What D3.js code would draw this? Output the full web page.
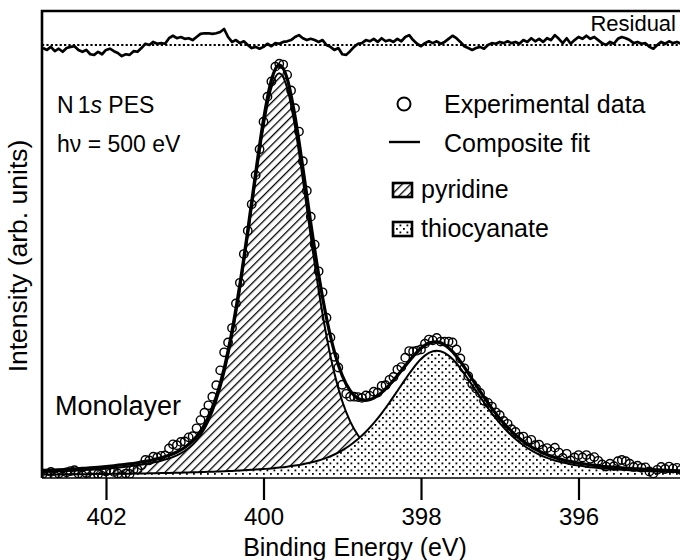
<!DOCTYPE html>
<html>
<head>
<meta charset="utf-8">
<script src="https://cdn.jsdelivr.net/npm/d3@7"></script>
<style>
  body { margin: 0; background: #fff; }
  svg { display: block; }
  text { font-family: "Liberation Sans", Arial, Helvetica, sans-serif; fill: #000; }
</style>
</head>
<body>
<svg id="chart" width="680" height="560"></svg>
<script>
// N 1s photoemission spectrum of a monolayer, fitted with two components.

// Energy grid of the fitted curves (eV)
const fitEnergy = [402.8,402.7,402.6,402.5,402.4,402.3,402.2,402.1,402.0,401.9,
  401.8,401.7,401.6,401.5,401.4,401.3,401.2,401.1,401.0,400.9,
  400.8,400.7,400.6,400.5,400.4,400.3,400.2,400.1,400.0,399.9,
  399.8,
  399.7,399.6,399.5,399.4,399.3,399.2,399.1,399.0,398.9,398.8,
  398.7,398.6,398.5,398.4,398.3,398.2,398.1,398.0,397.9,397.8,
  397.7,397.6,397.5,397.4,397.3,397.2,397.1,397.0,396.9,396.8,
  396.7,396.6,396.5,396.4,396.3,396.2,396.1,396.0,395.9,395.8,
  395.7,395.6,395.5,395.4,395.3,395.2,395.1,395.0,394.9,394.8,
  394.7];

// Pyridine component (arb. units)
const pyridine = [0.99,1.05,1.13,1.21,1.30,1.41,1.52,1.65,1.80,1.96,
  2.15,2.37,2.63,2.92,3.29,3.73,4.29,5.04,6.09,7.63,
  9.92,13.30,18.19,25.00,34.03,45.25,58.28,72.10,84.98,94.46,
  98.0,
  94.46,84.98,72.10,58.28,45.25,34.03,25.00,18.19,13.30,9.92,
  7.63,6.09,5.04,4.29,3.73,3.29,2.92,2.63,2.37,2.15,
  1.96,1.80,1.65,1.52,1.41,1.30,1.21,1.13,1.05,0.99,
  0.93,0.87,0.82,0.77,0.73,0.69,0.65,0.62,0.59,0.56,
  0.53,0.51,0.49,0.46,0.44,0.43,0.41,0.39,0.38,0.36,
  0.35];

// Thiocyanate component (arb. units)
const thiocyanate = [0.35,0.37,0.38,0.40,0.41,0.43,0.45,0.47,0.49,0.52,
  0.54,0.57,0.60,0.63,0.67,0.70,0.74,0.79,0.84,0.89,
  0.95,1.01,1.08,1.15,1.24,1.33,1.44,1.56,1.70,1.85,
  2.04,
  2.26,2.53,2.86,3.27,3.78,4.42,5.23,6.24,7.48,8.98,
  10.78,12.87,15.25,17.88,20.68,23.52,26.20,28.45,29.96,30.5,
  29.96,28.45,26.20,23.52,20.68,17.88,15.25,12.87,10.78,8.98,
  7.48,6.24,5.23,4.42,3.78,3.27,2.86,2.53,2.26,2.04,
  1.85,1.70,1.56,1.44,1.33,1.24,1.15,1.08,1.01,0.95,
  0.89];

// Composite fit (arb. units)
const composite = [1.34,1.42,1.51,1.61,1.71,1.84,1.97,2.12,2.29,2.48,
  2.69,2.94,3.23,3.55,3.96,4.43,5.03,5.83,6.93,8.52,
  10.87,14.31,19.27,26.15,35.27,46.58,59.72,73.66,86.68,96.31,
  100.04,
  96.72,87.51,74.96,61.55,49.03,38.45,30.23,24.43,20.78,18.90,
  18.41,18.96,20.29,22.17,24.41,26.81,29.12,31.08,32.33,32.65,
  31.92,30.25,27.85,25.04,22.09,19.18,16.46,14.00,11.83,9.97,
  8.41,7.11,6.05,5.19,4.51,3.96,3.51,3.15,2.85,2.60,
  2.38,2.21,2.05,1.90,1.77,1.67,1.56,1.47,1.39,1.31,
  1.24];

// Measured binding energies (eV)
const dataEnergy = [402.80,402.75,402.70,402.65,402.60,402.55,402.50,402.45,402.40,402.35,
  402.30,402.25,402.20,402.15,402.10,402.05,402.00,401.95,401.90,401.85,
  401.80,401.75,401.70,401.65,401.60,401.55,401.50,401.45,401.40,401.35,
  401.30,401.25,401.20,401.15,401.10,401.05,401.00,400.95,400.90,400.85,
  400.80,400.75,400.70,400.65,400.60,400.55,400.50,400.45,400.40,400.35,
  400.30,400.25,400.20,400.15,400.10,400.05,400.00,399.95,399.90,399.85,
  399.80,399.75,399.70,399.65,399.60,399.55,399.50,399.45,399.40,399.35,
  399.30,399.25,399.20,399.15,399.10,399.05,399.00,398.95,398.90,398.85,
  398.80,398.75,398.70,398.65,398.60,398.55,398.50,398.45,398.40,398.35,
  398.30,398.25,398.20,398.15,398.10,398.05,398.00,397.95,397.90,397.85,
  397.80,397.75,397.70,397.65,397.60,397.55,397.50,397.45,397.40,397.35,
  397.30,397.25,397.20,397.15,397.10,397.05,397.00,396.95,396.90,396.85,
  396.80,396.75,396.70,396.65,396.60,396.55,396.50,396.45,396.40,396.35,
  396.30,396.25,396.20,396.15,396.10,396.05,396.00,395.95,395.90,395.85,
  395.80,395.75,395.70,395.65,395.60,395.55,395.50,395.45,395.40,395.35,
  395.30,395.25,395.20,395.15,395.10,395.05,395.00,394.95,394.90,394.85,
  394.80,394.75,394.70];

// Measured intensity (arb. units)
const dataIntensity = [0.6,0.2,1.0,0.0,0.6,-0.1,0.9,1.2,1.4,0.6,
  0.2,0.7,-0.3,-0.4,0.5,0.0,1.1,1.5,1.0,0.6,
  0.0,0.6,0.5,1.6,1.6,2.6,3.9,3.8,4.7,4.5,
  4.9,5.0,6.7,7.7,7.5,8.3,8.4,9.4,9.7,11.6,
  13.6,15.4,17.2,19.3,22.1,25.7,30.1,32.5,36.0,42.0,
  47.0,54.0,59.7,66.1,73.2,79.5,86.2,92.3,96.0,99.6,
  100.3,100.1,97.6,93.8,89.5,83.8,76.6,69.4,63.1,56.3,
  49.8,44.7,38.5,33.7,29.0,26.4,22.2,20.0,19.3,19.3,
  19.2,19.0,19.6,19.5,20.5,20.3,21.9,22.1,23.4,24.1,
  25.9,26.5,28.8,30.4,30.3,30.5,30.8,32.2,33.2,33.0,
  33.6,32.7,32.7,32.7,32.5,30.8,28.6,26.2,24.3,22.4,
  21.3,20.2,18.3,17.8,16.9,15.5,14.8,13.4,12.7,11.4,
  10.7,9.5,9.6,8.5,8.8,7.5,7.6,6.4,6.8,6.0,
  6.9,5.7,4.4,5.4,3.8,4.5,5.1,4.5,5.1,4.2,
  4.6,3.7,2.8,2.3,3.0,2.4,3.6,3.9,3.6,3.0,
  2.2,2.5,2.0,2.1,1.1,0.6,1.5,2.2,1.7,2.3,
  1.8,2.0,1.5];

// Residual of the fit at each measured energy (arb. units)
const residual = [-0.75,-1.2,-0.45,-1.5,-0.9,-1.65,-0.75,-0.45,-0.3,-1.2,
  -1.65,-1.2,-2.25,-2.4,-1.65,-2.25,-1.2,-0.9,-1.5,-1.95,
  -2.7,-2.25,-2.4,-1.5,-1.65,-0.75,0.3,0,0.75,0.3,
  0.45,0.3,1.65,2.25,1.65,1.95,1.5,1.65,1.2,1.95,
  2.7,2.85,2.85,2.7,2.85,3.15,3.9,1.95,0.75,1.2,
  0.45,0.9,0,-0.75,-0.45,-0.9,-0.45,0.3,-0.3,0.45,
  0.3,0.75,0.9,1.2,1.95,2.4,1.65,1.2,1.5,1.2,
  0.75,1.2,0,-0.45,-1.2,-0.75,-2.25,-2.4,-1.5,-0.45,
  0.3,0.45,1.2,0.9,1.5,0.75,1.65,0.9,1.2,0.75,
  1.5,0.9,1.95,2.4,1.2,0.3,-0.3,0.45,0.9,0.45,
  0.9,0.3,0.75,1.5,2.25,1.65,0.75,-0.3,-0.75,-1.2,
  -0.75,-0.45,-0.9,0,0.45,0.3,0.75,0.45,0.9,0.45,
  0.75,0.3,1.2,0.75,1.65,0.9,1.5,0.75,1.65,1.2,
  2.4,1.5,0.45,1.65,0.3,1.2,1.95,1.5,2.25,1.5,
  1.95,1.2,0.45,0,0.75,0.3,1.5,1.95,1.65,1.2,
  0.45,0.75,0.3,0.45,-0.45,-0.9,0,0.75,0.3,0.9,
  0.45,0.75,0.3];

const tickEnergies = [402, 400, 398, 396];
const tickLabels = ["402", "400", "398", "396"];

// ---- layout ----
const frame = { left: 42, top: 11, right: 680, bottom: 478 };
const svg = d3.select("#chart");

const x = d3.scaleLinear().domain([402, 396]).range([106, 578.5]);
const y = d3.scaleLinear().domain([0, 100]).range([476, 65]);
// residual panel shares the intensity scale, offset to the top of the frame
const yRes = d3.scaleLinear().domain([0, 10]).range([45, 45 - 41.1]);

const defs = svg.append("defs");
defs.append("clipPath").attr("id", "plotClip")
  .append("rect")
  .attr("x", frame.left).attr("y", frame.top)
  .attr("width", frame.right - frame.left).attr("height", frame.bottom - frame.top);

// diagonal hatching for the pyridine component
const hatch = defs.append("pattern").attr("id", "hatch")
  .attr("patternUnits", "userSpaceOnUse")
  .attr("width", 6).attr("height", 6)
  .attr("patternTransform", "rotate(45)");
hatch.append("rect").attr("width", 6).attr("height", 6).attr("fill", "#fff");
hatch.append("line").attr("x1", 0).attr("y1", 0).attr("x2", 0).attr("y2", 6)
  .attr("stroke", "#000").attr("stroke-width", 2.6);

// stipple for the thiocyanate component
const dots = defs.append("pattern").attr("id", "dots")
  .attr("patternUnits", "userSpaceOnUse")
  .attr("width", 7).attr("height", 7);
dots.append("rect").attr("width", 7).attr("height", 7).attr("fill", "#fff");
dots.append("rect").attr("x", 0.5).attr("y", 0.5).attr("width", 1.8).attr("height", 1.8).attr("fill", "#000");
dots.append("rect").attr("x", 4).attr("y", 4).attr("width", 1.8).attr("height", 1.8).attr("fill", "#000");

const fitRows = fitEnergy.map((e, i) => ({ e, p: pyridine[i], t: thiocyanate[i], c: composite[i] }));
const dataRows = dataEnergy.map((e, i) => ({ e, v: dataIntensity[i], r: residual[i] }));

const plot = svg.append("g").attr("clip-path", "url(#plotClip)");

const areaOf = key => d3.area()
  .x(d => x(d.e)).y0(y(0)).y1(d => y(d[key]))
  .curve(d3.curveMonotoneX);
const lineOf = key => d3.line()
  .x(d => x(d.e)).y(d => y(d[key]))
  .curve(d3.curveMonotoneX);

// pyridine component
plot.append("path").datum(fitRows)
  .attr("d", areaOf("p")).attr("fill", "url(#hatch)");
plot.append("path").datum(fitRows)
  .attr("d", lineOf("p")).attr("fill", "none")
  .attr("stroke", "#000").attr("stroke-width", 2);

// thiocyanate component, drawn over the pyridine one
plot.append("path").datum(fitRows)
  .attr("d", areaOf("t")).attr("fill", "url(#dots)");
plot.append("path").datum(fitRows)
  .attr("d", lineOf("t")).attr("fill", "none")
  .attr("stroke", "#000").attr("stroke-width", 2);

// composite fit
plot.append("path").datum(fitRows)
  .attr("d", lineOf("c")).attr("fill", "none")
  .attr("stroke", "#000").attr("stroke-width", 3.2)
  .attr("stroke-linejoin", "round");

// experimental points
plot.append("g").selectAll("circle").data(dataRows).join("circle")
  .attr("cx", d => x(d.e)).attr("cy", d => y(d.v)).attr("r", 4.2)
  .attr("fill", "none").attr("stroke", "#000").attr("stroke-width", 1.4);

// residual trace and its zero line
plot.append("line")
  .attr("x1", frame.left).attr("x2", frame.right)
  .attr("y1", yRes(0)).attr("y2", yRes(0))
  .attr("stroke", "#000").attr("stroke-width", 2.2)
  .attr("stroke-dasharray", "2.2,2.2");
plot.append("path").datum(dataRows)
  .attr("d", d3.line().x(d => x(d.e)).y(d => yRes(d.r)))
  .attr("fill", "none").attr("stroke", "#000").attr("stroke-width", 2.7)
  .attr("stroke-linejoin", "round");

// frame: left and top edges, baseline
svg.append("path")
  .attr("d", `M${frame.left},${frame.bottom}V${frame.top}H${frame.right}`)
  .attr("fill", "none").attr("stroke", "#000").attr("stroke-width", 2.6);
svg.append("line")
  .attr("x1", frame.left).attr("x2", frame.right)
  .attr("y1", frame.bottom).attr("y2", frame.bottom)
  .attr("stroke", "#000").attr("stroke-width", 1.6);

// binding energy axis
const xAxis = d3.axisBottom(x)
  .tickValues(tickEnergies)
  .tickFormat((d, i) => tickLabels[i])
  .tickSize(22).tickPadding(8);
const gx = svg.append("g").attr("transform", `translate(0,${frame.bottom})`).call(xAxis);
gx.select(".domain").remove();
gx.selectAll(".tick line").attr("stroke", "#000").attr("stroke-width", 2.2);
gx.selectAll(".tick text")
  .style("font-family", '"Liberation Sans", Arial, sans-serif')
  .attr("font-size", 24).attr("fill", "#000");

svg.append("text")
  .attr("x", 355).attr("y", 556)
  .attr("text-anchor", "middle").attr("font-size", 25)
  .text("Binding Energy (eV)");

svg.append("text")
  .attr("transform", "translate(27,256) rotate(-90)")
  .attr("text-anchor", "middle").attr("font-size", 26.5)
  .text("Intensity (arb. units)");

// annotations
const note = svg.append("text").attr("x", 57).attr("y", 113).attr("font-size", 23);
note.append("tspan").text("N");
note.append("tspan").attr("dx", 4).text("1");
note.append("tspan").attr("font-style", "italic").text("s");
note.append("tspan").text(" PES");
svg.append("text").attr("x", 57).attr("y", 152).attr("font-size", 23)
  .text("h\u03BD = 500 eV");
svg.append("text").attr("x", 55).attr("y", 415).attr("font-size", 27)
  .text("Monolayer");
svg.append("text").attr("x", 676).attr("y", 31).attr("font-size", 22)
  .attr("text-anchor", "end").text("Residual");

// legend
const legend = svg.append("g");
legend.append("circle").attr("cx", 404).attr("cy", 104).attr("r", 6.5)
  .attr("fill", "none").attr("stroke", "#000").attr("stroke-width", 2);
legend.append("text").attr("x", 444).attr("y", 113).attr("font-size", 25).text("Experimental data");
legend.append("line").attr("x1", 389).attr("x2", 420).attr("y1", 142).attr("y2", 142)
  .attr("stroke", "#000").attr("stroke-width", 2.4);
legend.append("text").attr("x", 444).attr("y", 152).attr("font-size", 25).text("Composite fit");
legend.append("rect").attr("x", 393).attr("y", 183).attr("width", 19).attr("height", 14)
  .attr("fill", "url(#hatch)").attr("stroke", "#000").attr("stroke-width", 2.6);
legend.append("text").attr("x", 421).attr("y", 198).attr("font-size", 25).text("pyridine");
legend.append("rect").attr("x", 393).attr("y", 222).attr("width", 19).attr("height", 14)
  .attr("fill", "url(#dots)").attr("stroke", "#000").attr("stroke-width", 2.6);
legend.append("text").attr("x", 421).attr("y", 237).attr("font-size", 25).text("thiocyanate");
</script>
</body>
</html>
